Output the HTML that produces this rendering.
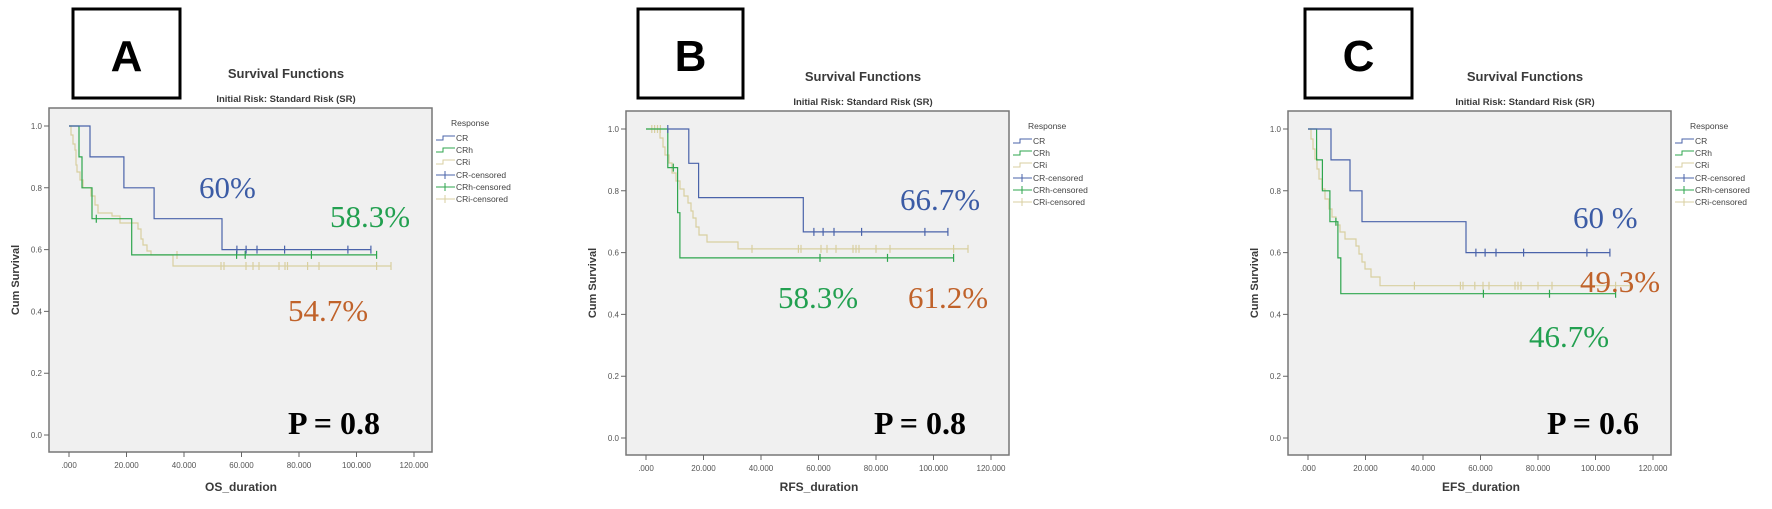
<!DOCTYPE html>
<html><head><meta charset="utf-8"><style>
body{margin:0;background:#fff;}
svg{display:block;}
.tl{font-family:"Liberation Sans",sans-serif;font-size:8px;fill:#555;}
.ti{font-family:"Liberation Sans",sans-serif;font-weight:bold;fill:#3a3a3a;}
.lg{font-family:"Liberation Sans",sans-serif;font-size:8.5px;fill:#444;}
.pc{font-family:"Liberation Serif",serif;font-size:31px;}
.pv{font-family:"Liberation Serif",serif;font-size:32px;font-weight:bold;fill:#000;}
.bx{font-family:"Liberation Sans",sans-serif;font-size:44px;font-weight:bold;fill:#000;}
</style></head><body>
<svg width="1772" height="509" viewBox="0 0 1772 509" xmlns="http://www.w3.org/2000/svg">
<defs>
<g id="frame">
<rect x="49" y="108" width="383" height="344" fill="#f0f0f0" stroke="#777" stroke-width="1.5"/>
<g stroke="#666" stroke-width="1">
<path d="M44,126H49M44,187.8H49M44,249.6H49M44,311.4H49M44,373.2H49M44,435H49"/>
<path d="M69,452V457M126.5,452V457M184,452V457M241.5,452V457M299,452V457M356.5,452V457M414,452V457"/>
</g>
<g class="tl" text-anchor="end">
<text x="42" y="129">1.0</text><text x="42" y="190.8">0.8</text><text x="42" y="252.6">0.6</text>
<text x="42" y="314.4">0.4</text><text x="42" y="376.2">0.2</text><text x="42" y="438">0.0</text>
</g>
<g class="tl" text-anchor="middle">
<text x="69" y="468">.000</text><text x="126.5" y="468">20.000</text><text x="184" y="468">40.000</text>
<text x="241.5" y="468">60.000</text><text x="299" y="468">80.000</text><text x="356.5" y="468">100.000</text><text x="414" y="468">120.000</text>
</g>
<text class="ti" x="15" y="280" font-size="11" text-anchor="middle" transform="rotate(-90 15 280)" dy="4">Cum Survival</text>
<text class="ti" x="286" y="78" font-size="13" text-anchor="middle">Survival Functions</text>
<text class="ti" x="286" y="102" font-size="9.5" text-anchor="middle">Initial Risk: Standard Risk (SR)</text>
<text class="lg" x="451" y="126" font-size="10" fill="#555">Response</text>
<g fill="none" stroke-width="1">
<path d="M436,140H443V136H455" stroke="#4a63aa"/>
<path d="M436,152H443V148H455" stroke="#2ea64e"/>
<path d="M436,164H443V160H455" stroke="#d8cfa0"/>
<path d="M436,175H455M445,171V179" stroke="#4a63aa"/>
<path d="M436,187H455M445,183V191" stroke="#2ea64e"/>
<path d="M436,199H455M445,195V203" stroke="#d8cfa0"/>
</g>
<text class="lg" x="456" y="141">CR</text><text class="lg" x="456" y="153">CRh</text><text class="lg" x="456" y="165">CRi</text>
<text class="lg" x="456" y="178">CR-censored</text><text class="lg" x="456" y="190">CRh-censored</text><text class="lg" x="456" y="202">CRi-censored</text>
</g>
</defs>

<!-- Panel A -->
<rect x="73" y="9" width="107" height="89" fill="#fff" stroke="#000" stroke-width="3"/>
<text class="bx" x="126.5" y="71" text-anchor="middle">A</text>
<g>
<use href="#frame"/>
<text class="ti" x="241" y="491" font-size="12" text-anchor="middle">OS_duration</text>
<g fill="none" stroke-width="1.2">
<path stroke="#d8cfa0" d="M69,126H71V135H73V144H75V150H76V165H77V172H80V180H83V187.8H91V196H95V205H98V213H112V216H120V223H138V229H141V239H143V245H147V251H151V255H173V266H391"/>
<path stroke="#d8cfa0" d="M177,251v8M221,262v8M224,262v8M246,262v8M253,262v8M259,262v8M279,262v8M285,262v8M287.5,262v8M307.6,262v8M319,262v8M376.6,262v8M391,262v8"/>
<path stroke="#2ea64e" d="M69,126H79V156.9H82V187.8H92V218.7H131.7V254.9H376.6"/>
<path stroke="#2ea64e" d="M96.3,214.7v8M236.6,250.9v8M245.2,250.9v8M311.4,250.9v8M376.6,250.9v8"/>
<path stroke="#4a63aa" d="M69,126H90V156.9H123.9V187.8H154.1V218.7H222V249.6H370.9"/>
<path stroke="#4a63aa" d="M236.9,245.6v8M246.1,245.6v8M257,245.6v8M284.6,245.6v8M347.9,245.6v8M370.9,245.6v8"/>
</g>
<text class="pc" x="199" y="198" fill="#3b5ba5">60%</text>
<text class="pc" x="330" y="227" fill="#22a050">58.3%</text>
<text class="pc" x="288" y="321" fill="#c0622a">54.7%</text>
<text class="pv" x="288" y="434">P = 0.8</text>
</g>

<!-- Panel B -->
<rect x="638" y="9" width="105" height="89" fill="#fff" stroke="#000" stroke-width="3"/>
<text class="bx" x="690.5" y="71" text-anchor="middle">B</text>
<g transform="translate(577,3)">
<use href="#frame"/>
<text class="ti" x="242" y="488" font-size="12" text-anchor="middle">RFS_duration</text>
<g fill="none" stroke-width="1.2">
<path stroke="#d8cfa0" d="M69,126H83V135H86V144H88V152H92V160H95V170H99V178H103V186H107V193H111V200H114V208H116V215H119V224H122V232H130V239H161V245.9H391"/>
<path stroke="#d8cfa0" d="M74.8,122v8M77.6,122v8M80.5,122v8M83.4,122v8M175,241.9v8M221.4,241.9v8M224,241.9v8M244,241.9v8M250,241.9v8M259,241.9v8M276,241.9v8M279,241.9v8M282,241.9v8M299,241.9v8M313,241.9v8M376.6,241.9v8M391,241.9v8"/>
<path stroke="#2ea64e" d="M69,126H90.8V164.6H100.6V209.7H102.9V254.9H376.6"/>
<path stroke="#2ea64e" d="M96.3,160.6v8M243,250.9v8M310.5,250.9v8M376.6,250.9v8"/>
<path stroke="#4a63aa" d="M90.8,126H111.8V160.3H121.6V194.6H226.3V228.9H370.9"/>
<path stroke="#4a63aa" d="M90.8,122v8M236.9,224.9v8M246.1,224.9v8M257,224.9v8M284.6,224.9v8M347.9,224.9v8M370.9,224.9v8"/>
</g>
<text class="pc" x="323" y="207" fill="#3b5ba5">66.7%</text>
<text class="pc" x="201" y="305" fill="#22a050">58.3%</text>
<text class="pc" x="331" y="305" fill="#c0622a">61.2%</text>
<text class="pv" x="297" y="431">P = 0.8</text>
</g>

<!-- Panel C -->
<rect x="1305" y="9" width="107" height="89" fill="#fff" stroke="#000" stroke-width="3"/>
<text class="bx" x="1358.5" y="71" text-anchor="middle">C</text>
<g transform="translate(1239,3)">
<use href="#frame"/>
<text class="ti" x="242" y="488" font-size="12" text-anchor="middle">EFS_duration</text>
<g fill="none" stroke-width="1.2">
<path stroke="#d8cfa0" d="M69,126H72V136H74V146H76V156H78V166H80V176H83V186H86V196H90V206H93V214H97V222H101V229H106V236H117V243H120V251H123V259H126V266H132V274H141V282.7H391"/>
<path stroke="#d8cfa0" d="M175.4,278.7v8M221.4,278.7v8M224,278.7v8M235.8,278.7v8M244,278.7v8M250,278.7v8M276,278.7v8M279,278.7v8M282,278.7v8M299,278.7v8M313,278.7v8M376.6,278.7v8M391,278.7v8"/>
<path stroke="#2ea64e" d="M69,126H77.6V156.9H83.4V187.8H90.9V218.7H98.9V254.9H101.8V290.7H376.6"/>
<path stroke="#2ea64e" d="M96.9,214.7v8M244.4,286.7v8M310.5,286.7v8M376.6,286.7v8"/>
<path stroke="#4a63aa" d="M69,126H92V156.9H111V187.8H123V218.7H227V249.6H370.9"/>
<path stroke="#4a63aa" d="M236.9,245.6v8M246.1,245.6v8M257,245.6v8M284.6,245.6v8M347.9,245.6v8M370.9,245.6v8"/>
</g>
<text class="pc" x="334" y="225" fill="#3b5ba5">60 %</text>
<text class="pc" x="341" y="289" fill="#c0622a">49.3%</text>
<text class="pc" x="290" y="344" fill="#22a050">46.7%</text>
<text class="pv" x="308" y="431">P = 0.6</text>
</g>
</svg>
</body></html>
